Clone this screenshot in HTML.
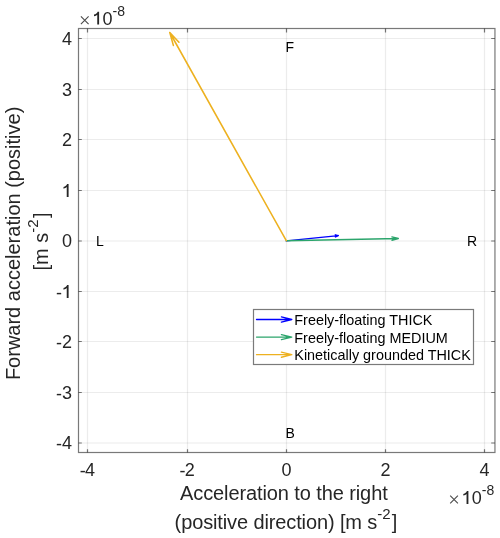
<!DOCTYPE html>
<html><head><meta charset="utf-8">
<style>
html,body{margin:0;padding:0;background:#fff;overflow:hidden;}
svg{display:block;will-change:transform}
text{font-family:"Liberation Sans",sans-serif;}
</style></head>
<body>
<svg width="500" height="538" viewBox="0 0 500 538">
<defs><path id="one" d="M6.6 0V-12.9H5.1C4.7-11.6 3.4-10.4 1.5-10.0V-8.3C3.0-8.6 4.0-9.2 4.75-9.9V0Z"/></defs>
<rect width="500" height="538" fill="#fff"/>
<!-- grid -->
<g stroke="#262626" stroke-opacity="0.085" stroke-width="1.2" fill="none">
<path d="M87.5 29V452M187.5 29V452M286.5 29V452M385.5 29V452M484.5 29V452"/>
<path d="M79 38.5H494M79 89.5H494M79 139.5H494M79 190.5H494M79 241H494M79 291.5H494M79 341.5H494M79 392.5H494M79 443H494"/>
</g>
<!-- axes box -->
<g stroke="#262626" stroke-opacity="0.62" stroke-width="1.2" fill="none">
<rect x="78.5" y="28.5" width="416.45" height="424"/>
<path d="M87.5 452.5V449.2M187.5 452.5V449.2M286.5 452.5V449.2M385.5 452.5V449.2M484.5 452.5V449.2"/>
<path d="M87.5 28.5V32.4M187.5 28.5V32.4M286.5 28.5V32.4M385.5 28.5V32.4M484.5 28.5V32.4"/>
<path d="M78.5 38.5H81.8M78.5 89.5H81.8M78.5 139.5H81.8M78.5 190.5H81.8M78.5 241H81.8M78.5 291.5H81.8M78.5 341.5H81.8M78.5 392.5H81.8M78.5 443H81.8"/>
<path d="M494.95 38.5H491.2M494.95 89.5H491.2M494.95 139.5H491.2M494.95 190.5H491.2M494.95 241H491.2M494.95 291.5H491.2M494.95 341.5H491.2M494.95 392.5H491.2M494.95 443H491.2"/>
</g>
<!-- tick labels -->
<g fill="#262626" font-size="18" text-anchor="end">
<text x="72" y="45">4</text>
<text x="72" y="96">3</text>
<text x="72" y="146">2</text>
<use href="#one" x="61.99" y="197"/>
<text x="72" y="247.4">0</text>
<text x="61.99" y="298.9">-</text><use href="#one" x="61.99" y="298"/>
<text x="72" y="348"><tspan dy="0.9">-</tspan><tspan dy="-0.9">2</tspan></text>
<text x="72" y="399"><tspan dy="0.9">-</tspan><tspan dy="-0.9">3</tspan></text>
<text x="72" y="449.4"><tspan dy="0.9">-</tspan><tspan dy="-0.9">4</tspan></text>
</g>
<g fill="#262626" font-size="18" text-anchor="middle">
<text x="87.3" y="475.7"><tspan dy="0.9">-</tspan><tspan dy="-0.9" dx="-0.8">4</tspan></text>
<text x="187.1" y="475.7"><tspan dy="0.9">-</tspan><tspan dy="-0.9" dx="-0.8">2</tspan></text>
<text x="286.5" y="475.7">0</text>
<text x="385.5" y="475.7">2</text>
<text x="484.5" y="475.7">4</text>
</g>
<!-- exponents -->
<g id="ex1" fill="#262626">
<path d="M80.9 16.3L88.6 24.1M88.6 16.3L80.9 24.1" stroke="#4a4a4a" stroke-width="1.1" fill="none"/>
<use href="#one" x="92.5" y="24.6"/><text x="102.51" y="24.6" font-size="18">0<tspan font-size="14" dy="-8.8">-8</tspan></text>
</g>
<g transform="translate(369.3,479.3)" fill="#262626">
<path d="M80.9 16.3L88.6 24.1M88.6 16.3L80.9 24.1" stroke="#4a4a4a" stroke-width="1.1" fill="none"/>
<use href="#one" x="92.5" y="24.6"/><text x="102.51" y="24.6" font-size="18">0<tspan font-size="14" dy="-8.8">-8</tspan></text>
</g>
<!-- axis labels -->
<g fill="#262626" font-size="20">
<text x="180" y="499.7" letter-spacing="-0.1">Acceleration to the right</text>
<text x="174.6" y="528.8"><tspan letter-spacing="-0.12">(positive direction) [m s</tspan><tspan font-size="15" dy="-10">-2</tspan><tspan dy="10" dx="1.2">]</tspan></text>
</g>
<g fill="#262626" font-size="20">
<text transform="translate(19.6,243.4) rotate(-90)" text-anchor="middle">Forward acceleration (positive)</text>
<text transform="translate(48.3,270.5) rotate(-90)">[m s<tspan font-size="15" dy="-10">-2</tspan><tspan dy="10" dx="1.5">]</tspan></text>
</g>
<!-- annotations -->
<g fill="#000" font-size="14">
<text x="285.5" y="51.9">F</text>
<text x="96" y="245.7">L</text>
<text x="467" y="245.7">R</text>
<text x="285.5" y="437.9">B</text>
</g>
<!-- arrows -->
<g fill="none" stroke-width="1.6" stroke-linecap="round" stroke-linejoin="round">
<path stroke="#0000ff" stroke-width="1.45" d="M286.30 240.90L338.30 235.60M335.52 236.94L338.30 235.60L335.31 234.85"/>
<path stroke="#2ca56c" stroke-width="1.3" d="M286.30 240.75L398.40 238.50M391.94 240.33L398.40 238.50L391.87 236.93"/>
<path stroke="#edb120" stroke-width="1.55" d="M286.30 240.70L169.80 32.50M178.94 42.28L169.80 32.50L173.36 45.41"/>
</g>
<!-- legend -->
<rect x="253.5" y="309.5" width="220" height="55" fill="#fff" stroke="#7a7a7a" stroke-width="1.2"/>
<g fill="none" stroke-width="1.3" stroke-linecap="round" stroke-linejoin="round">
<path stroke="#0000ff" d="M256.5 319.5H291.8M281.4 316.95L291.8 319.5L281.4 322.05"/>
<path stroke="#2ca56c" d="M256.5 337.1H291.8M281.4 334.55L291.8 337.1L281.4 339.65"/>
<path stroke="#edb120" d="M256.5 354.7H291.8M281.4 352.15L291.8 354.7L281.4 357.25"/>
</g>
<g fill="#000" font-size="14.4">
<text x="294.3" y="325">Freely-floating THICK</text>
<text x="294.3" y="342.6">Freely-floating MEDIUM</text>
<text x="294.3" y="360.1">Kinetically grounded THICK</text>
</g>
</svg>
</body></html>
